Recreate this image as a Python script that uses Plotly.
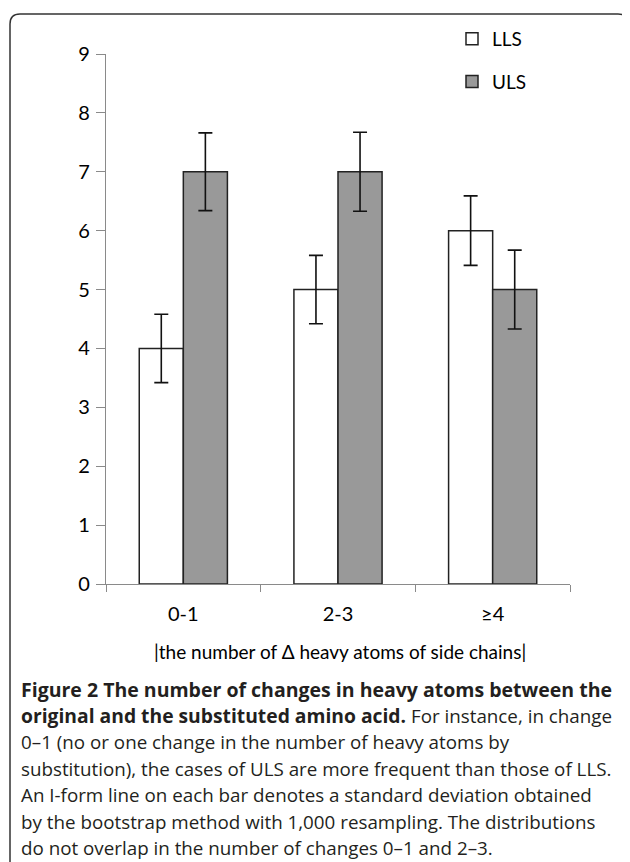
import plotly.graph_objects as go

categories = ["0-1", "2-3", "≥4"]
lls = [4, 5, 6]
uls = [7, 7, 5]
lls_sd = [0.58, 0.58, 0.59]
uls_sd = [0.66, 0.67, 0.67]
y_tickvals = [0, 1, 2, 3, 4, 5, 6, 7, 8, 9]
x_title = "|the number of Δ heavy atoms of side chains|"
caption_lines = [
    "<span style='font-size:19.5px'><b>Figure 2 The number of changes in heavy atoms between the</b></span>",
    "<span style='font-size:19.3px'><b>original and the substituted amino acid.</b></span> For instance, in change",
    "0–1 (no or one change in the number of heavy atoms by",
    "substitution), the cases of ULS are more frequent than those of LLS.",
    "An I-form line on each bar denotes a standard deviation obtained",
    "by the bootstrap method with 1,000 resampling. The distributions",
    "do not overlap in the number of changes 0–1 and 2–3.",
]

# page body has an 8px margin: figure pixel = screen pixel - 8
OFF = 8
W, H = 630, 862
L, R, T, B = 106 - OFF, W - (570 - OFF), 54 - OFF, H - (584 - OFF)
pw = W - L - R
ph = H - T - B


def px(x):
    return (x - OFF - L) / pw


def py(y):
    return (H - B - (y - OFF)) / ph


fig = go.Figure()
fig.add_trace(go.Bar(
    name="LLS", x=categories, y=lls,
    marker=dict(color="white", line=dict(color="#222", width=1.5)),
    error_y=dict(type="data", array=lls_sd, color="#111", thickness=1.6, width=7),
    legendgroup="a",
))
fig.add_trace(go.Bar(
    name="ULS", x=categories, y=uls,
    marker=dict(color="#999999", line=dict(color="#222", width=1.5)),
    error_y=dict(type="data", array=uls_sd, color="#111", thickness=1.6, width=7),
    legendgroup="b",
))

chart_font = "Lato, Open Sans, sans-serif"
cap_font = "Open Sans, Noto Sans, sans-serif"

fig.update_layout(
    width=W, height=H,
    margin=dict(l=L, r=R, t=T, b=B),
    paper_bgcolor="white", plot_bgcolor="white",
    barmode="group", bargap=0.43, bargroupgap=0,
    font=dict(family=chart_font, color="#000", size=20),
    showlegend=True,
    legend=dict(x=px(452), y=py(20), xanchor="left", yanchor="top",
                font=dict(family=chart_font, size=19, color="#000"),
                tracegroupgap=15, traceorder="grouped",
                bgcolor="rgba(0,0,0,0)"),
    xaxis=dict(showline=True, linecolor="#8a8a8a", linewidth=1.2,
               ticks="outside", tickson="boundaries", ticklen=7,
               tickcolor="#8a8a8a", tickwidth=1.2, showgrid=False,
               ticklabelstandoff=12,
               tickfont=dict(family=chart_font, size=20, color="#000")),
    yaxis=dict(range=[0, 9], tickvals=y_tickvals, showline=True,
               linecolor="#8a8a8a", linewidth=1.2, ticks="outside", ticklen=9,
               tickcolor="#8a8a8a", tickwidth=1.2, showgrid=False, zeroline=False,
               ticklabelstandoff=2,
               tickfont=dict(family=chart_font, size=20, color="#000")),
)

annotations = [dict(
    text=x_title, x=px(340), y=py(651), xref="paper", yref="paper",
    xanchor="center", yanchor="middle", showarrow=False,
    font=dict(family=chart_font, size=19, color="#000"),
)]
for i, line in enumerate(caption_lines):
    annotations.append(dict(
        text=line, x=px(19), y=py(689 + 26.5 * i), xref="paper", yref="paper",
        xanchor="left", yanchor="middle", showarrow=False,
        font=dict(family=cap_font, size=18.8, color="#231f20"),
    ))
fig.update_layout(annotations=annotations)

border = (f"M {px(10)},{py(880)} L {px(10)},{py(24)} "
          f"Q {px(10)},{py(14)} {px(20)},{py(14)} L {px(618)},{py(14)} "
          f"Q {px(628)},{py(14)} {px(628)},{py(24)} L {px(628)},{py(880)}")
fig.add_shape(type="path", path=border, xref="paper", yref="paper",
              line=dict(color="#333", width=1.5))

fig.write_html("out.html")
